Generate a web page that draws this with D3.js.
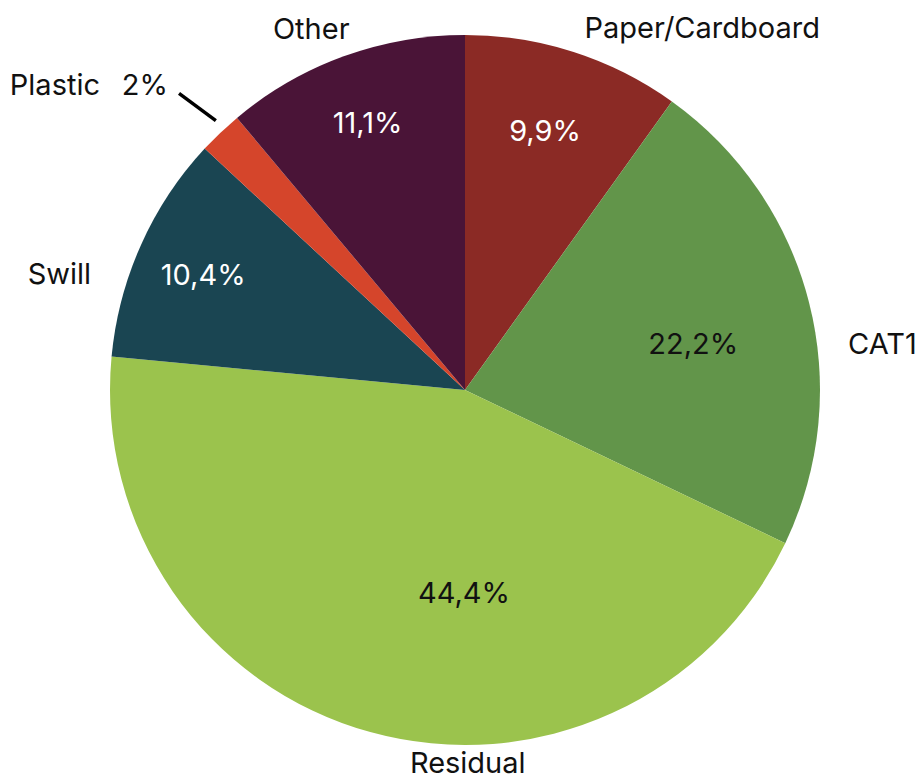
<!DOCTYPE html>
<html><head><meta charset="utf-8">
<script src="https://cdn.jsdelivr.net/npm/d3@7"></script>
<style>body{margin:0;background:#fff}svg{display:block}</style>
</head><body>
<svg id="chart" width="921" height="783"></svg>
<script>
const categories = ["Paper/Cardboard", "CAT1", "Residual", "Swill", "Plastic", "Other"];
const values = [9.9, 22.2, 44.4, 10.4, 2, 11.1];
const valueLabels = ["9,9%", "22,2%", "44,4%", "10,4%", "2%", "11,1%"];

const colors = ["#8b2a25", "#62954a", "#9bc34d", "#1a4552", "#d5452b", "#4a1437"];
const innerTextColors = ["#fff", "#111", "#111", "#fff", null, "#fff"];
// label placement: [radius px, angle shift in degrees from slice mid-angle]
const innerPlace = [[272, -0.7], [233, 2.8], [203, -15.2], [286, -0.4], null, [285, 0]];
const outerPlace = [[433, 15.4], [420, 8.0], [373, -15.9], [422, -8.1], null, [393, -3.05]];

const svg = d3.select("#chart");
const cx = 465, cy = 390, R = 355;
const font = "Inter, 'Noto Sans', sans-serif";
const fs = 29;

const pie = d3.pie().sort(null).value(d => d)(values);
const arc = d3.arc().innerRadius(0).outerRadius(R);
const g = svg.append("g").attr("transform", `translate(${cx},${cy})`);

g.selectAll("path.slice").data(pie).join("path")
  .attr("class", "slice")
  .attr("d", arc)
  .attr("fill", (d, i) => colors[i]);

function polar(r, a) { return [r * Math.sin(a), -r * Math.cos(a)]; }
const mid = d => (d.startAngle + d.endAngle) / 2;
const deg = Math.PI / 180;

pie.forEach((d, i) => {
  if (innerPlace[i]) {
    const [x, y] = polar(innerPlace[i][0], mid(d) + innerPlace[i][1] * deg);
    g.append("text").attr("x", x).attr("y", y).attr("dy", "0.36em")
      .attr("text-anchor", "middle").attr("font-family", font).attr("font-size", fs)
      .attr("fill", innerTextColors[i]).text(valueLabels[i]);
  }
  if (outerPlace[i]) {
    const [x, y] = polar(outerPlace[i][0], mid(d) + outerPlace[i][1] * deg);
    g.append("text").attr("x", x).attr("y", y).attr("dy", "0.36em")
      .attr("text-anchor", "middle").attr("font-family", font).attr("font-size", fs)
      .attr("fill", "#111").text(categories[i]);
  }
});

// Plastic: leader line with outside label
const pd = pie[4];
const pa = mid(pd);
const [x1, y1] = polar(R + 12, pa + 0.8 * deg);
const [x2, y2] = polar(R + 57, pa - 0.4 * deg);
g.append("line").attr("x1", x1).attr("y1", y1).attr("x2", x2).attr("y2", y2)
  .attr("stroke", "#000").attr("stroke-width", 3.5);
g.append("text").attr("x", x2 - 11).attr("y", y2 - 9).attr("dy", "0.36em")
  .attr("text-anchor", "end").attr("font-family", font).attr("font-size", fs)
  .attr("fill", "#111").text(valueLabels[4]);
g.append("text").attr("x", x2 - 79).attr("y", y2 - 9).attr("dy", "0.36em")
  .attr("text-anchor", "end").attr("font-family", font).attr("font-size", fs)
  .attr("fill", "#111").text(categories[4]);
</script>
</body></html>
